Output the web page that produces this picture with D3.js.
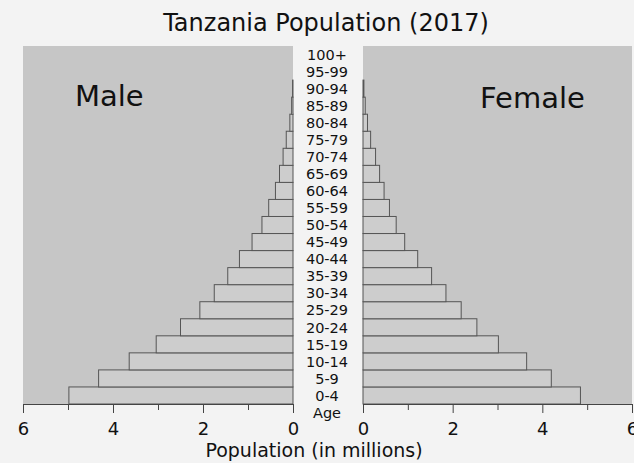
<!DOCTYPE html>
<html>
<head>
<meta charset="utf-8">
<script src="https://cdn.jsdelivr.net/npm/d3@7"></script>
<style>
  body { margin: 0; background: #f3f3f3; }
  text { font-family: "DejaVu Sans", sans-serif; fill: #111; }
</style>
</head>
<body>
<div id="chart"></div>
<script>
// age groups, bottom to top
var ageGroups = ["0-4", "5-9", "10-14", "15-19", "20-24", "25-29", "30-34", "35-39",
  "40-44", "45-49", "50-54", "55-59", "60-64", "65-69", "70-74", "75-79",
  "80-84", "85-89", "90-94", "95-99", "100+"];

// population in millions
var maleValues = [4.98, 4.32, 3.64, 3.04, 2.50, 2.07, 1.75, 1.45, 1.19, 0.91, 0.69,
  0.54, 0.39, 0.30, 0.22, 0.15, 0.07, 0.03, 0.01, 0, 0];
var femaleValues = [4.85, 4.20, 3.65, 3.02, 2.54, 2.19, 1.85, 1.53, 1.22, 0.93, 0.74,
  0.59, 0.47, 0.37, 0.28, 0.17, 0.10, 0.05, 0.02, 0, 0];

var majorTicks = [0, 2, 4, 6];
var minorTicks = [1, 3, 5];

var svgwidth = 634;
var svgheight = 463;

// panel geometry
var panelTop = 46;
var panelBottom = 404;
var leftPanel = { x0: 23, x1: 293 };
var rightPanel = { x0: 363, x1: 632 };
var labelX = 327;

var svg = d3.select("#chart").append("svg")
  .attr("width", svgwidth)
  .attr("height", svgheight);

// scales
var yScale = d3.scaleBand()
  .domain(ageGroups)
  .range([panelBottom, panelTop])
  .padding(0);

var xLeft = d3.scaleLinear().domain([0, 6]).range([leftPanel.x1, leftPanel.x0]);
var xRight = d3.scaleLinear().domain([0, 6]).range([rightPanel.x0, rightPanel.x1]);

// title
svg.append("text")
  .attr("x", 326)
  .attr("y", 31)
  .attr("text-anchor", "middle")
  .style("font-size", "24px")
  .text("Tanzania Population (2017)");

// panel backgrounds
svg.append("rect")
  .attr("x", leftPanel.x0).attr("y", panelTop)
  .attr("width", leftPanel.x1 - leftPanel.x0)
  .attr("height", panelBottom - panelTop)
  .attr("fill", "#c6c6c6");
svg.append("rect")
  .attr("x", rightPanel.x0).attr("y", panelTop)
  .attr("width", rightPanel.x1 - rightPanel.x0)
  .attr("height", panelBottom - panelTop)
  .attr("fill", "#c6c6c6");

// male bars
svg.append("g").selectAll("rect")
  .data(ageGroups)
  .join("rect")
  .attr("x", (d, i) => xLeft(maleValues[i]))
  .attr("y", d => yScale(d))
  .attr("width", (d, i) => xLeft(0) - xLeft(maleValues[i]))
  .attr("height", yScale.bandwidth())
  .attr("fill", "#cdcdcd")
  .attr("stroke", "#555")
  .attr("stroke-width", 1);

// female bars
svg.append("g").selectAll("rect")
  .data(ageGroups)
  .join("rect")
  .attr("x", xRight(0))
  .attr("y", d => yScale(d))
  .attr("width", (d, i) => xRight(femaleValues[i]) - xRight(0))
  .attr("height", yScale.bandwidth())
  .attr("fill", "#cdcdcd")
  .attr("stroke", "#555")
  .attr("stroke-width", 1);

// panel labels
svg.append("text")
  .attr("x", 75).attr("y", 106)
  .style("font-size", "29px")
  .text("Male");
svg.append("text")
  .attr("x", 480).attr("y", 108)
  .style("font-size", "29px")
  .text("Female");

// age labels
svg.append("g").selectAll("text")
  .data(ageGroups)
  .join("text")
  .attr("x", labelX)
  .attr("y", d => yScale(d) + yScale.bandwidth() / 2)
  .attr("dy", "0.36em")
  .attr("text-anchor", "middle")
  .style("font-size", "14.5px")
  .text(d => d);

svg.append("text")
  .attr("x", labelX)
  .attr("y", panelBottom + 9)
  .attr("dy", "0.36em")
  .attr("text-anchor", "middle")
  .style("font-size", "14.5px")
  .text("Age");

// axes
function drawAxis(scale) {
  var g = svg.append("g").attr("transform", `translate(0, ${panelBottom})`);
  g.call(d3.axisBottom(scale).tickValues(majorTicks).tickFormat(d3.format("d"))
    .tickSize(9).tickSizeOuter(0).tickPadding(9));
  g.select(".domain").attr("stroke", "#444");
  g.selectAll(".tick line").attr("stroke", "#444");
  g.selectAll(".tick text").style("font-size", "18px").attr("fill", "#111")
    .style("font-family", "DejaVu Sans, sans-serif");
  var m = svg.append("g").attr("transform", `translate(0, ${panelBottom})`);
  m.call(d3.axisBottom(scale).tickValues(minorTicks).tickSize(6).tickSizeOuter(0).tickFormat(""));
  m.select(".domain").remove();
  m.selectAll(".tick line").attr("stroke", "#444");
}
drawAxis(xLeft);
drawAxis(xRight);

// x axis title
svg.append("text")
  .attr("x", 314)
  .attr("y", 457)
  .attr("text-anchor", "middle")
  .style("font-size", "19px")
  .text("Population (in millions)");
</script>
</body>
</html>
